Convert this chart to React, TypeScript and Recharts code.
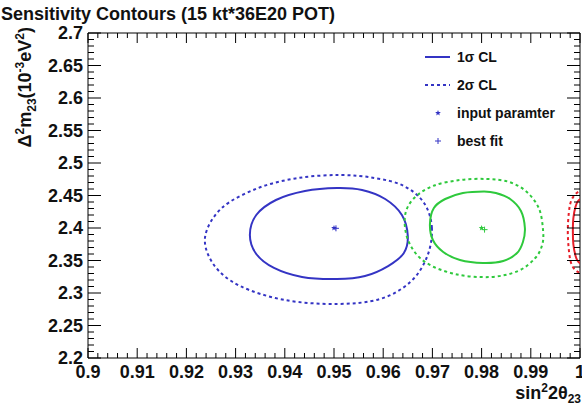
import React from "react";
import { ComposedChart, Scatter, XAxis, YAxis } from "recharts";

// axis ticks
const X_MAJOR = [0.9, 0.91, 0.92, 0.93, 0.94, 0.95, 0.96, 0.97, 0.98, 0.99, 1.0];
const X_LABELS = ["0.9", "0.91", "0.92", "0.93", "0.94", "0.95", "0.96", "0.97", "0.98", "0.99", "1"];
const Y_MAJOR = [2.2, 2.25, 2.3, 2.35, 2.4, 2.45, 2.5, 2.55, 2.6, 2.65, 2.7];
const Y_LABELS = ["2.2", "2.25", "2.3", "2.35", "2.4", "2.45", "2.5", "2.55", "2.6", "2.65", "2.7"];

// contours (sin^2 2theta, dm^2)
const BLUE_1S_X = [0.965, 0.9638, 0.9604, 0.9557, 0.9506, 0.9441, 0.9382, 0.9342, 0.9329, 0.9342, 0.9378, 0.9435, 0.9506, 0.9563, 0.961, 0.9642];
const BLUE_1S_Y = [2.3877, 2.42, 2.4446, 2.4585, 2.4615, 2.4569, 2.4431, 2.42, 2.3892, 2.36, 2.3385, 2.3246, 2.3215, 2.3262, 2.3415, 2.3615];
const BLUE_2S_X = [0.9699, 0.9683, 0.9642, 0.9583, 0.9512, 0.9427, 0.9346, 0.9272, 0.9238, 0.9256, 0.9309, 0.94, 0.9506, 0.9594, 0.9655, 0.9689];
const BLUE_2S_Y = [2.4, 2.4385, 2.4646, 2.4769, 2.4815, 2.4769, 2.4615, 2.4308, 2.3862, 2.3431, 2.3108, 2.2892, 2.2831, 2.2908, 2.3169, 2.3554];
const GREEN_1S_X = [0.9888, 0.988, 0.9858, 0.9829, 0.9805, 0.9762, 0.9726, 0.9703, 0.9695, 0.9701, 0.9722, 0.9756, 0.9803, 0.9844, 0.9872, 0.9884];
const GREEN_1S_Y = [2.4, 2.4262, 2.4446, 2.4538, 2.4562, 2.4538, 2.4446, 2.4308, 2.4062, 2.3815, 2.3631, 2.3508, 2.3462, 2.3492, 2.3615, 2.3785];
const GREEN_2S_X = [0.9925, 0.9917, 0.9892, 0.9856, 0.9811, 0.9756, 0.9701, 0.9661, 0.9644, 0.9652, 0.9685, 0.9746, 0.9817, 0.9874, 0.9909, 0.9923];
const GREEN_2S_Y = [2.3954, 2.4292, 2.4554, 2.4708, 2.4754, 2.4738, 2.4646, 2.4446, 2.4169, 2.3785, 2.3477, 2.3292, 2.3246, 2.3338, 2.3538, 2.3738];
const RED_1S_X = [1.002, 1.0, 0.9991, 0.99865, 0.99855, 0.99865, 0.9991, 1.0, 1.002];
const RED_1S_Y = [2.445, 2.444, 2.433, 2.415, 2.395, 2.375, 2.357, 2.346, 2.345];
const RED_2S_X = [1.002, 1.0, 0.9984, 0.99775, 0.99752, 0.99775, 0.9984, 1.0, 1.002];
const RED_2S_Y = [2.458, 2.457, 2.445, 2.425, 2.395, 2.365, 2.342, 2.331, 2.33];

const INPUT_X = [0.95, 0.98];
const INPUT_Y = [2.4, 2.4];
const FIT_X = [0.9504, 0.9806];
const FIT_Y = [2.3995, 2.3975];

const BLUE = "#3434c4";
const GREEN = "#2ec93c";
const RED = "#e61e28";
const FONT = "'Liberation Sans', Arial, Helvetica, sans-serif";

const pts = (xs: number[], ys: number[]) => xs.map((x, i) => ({ x, y: ys[i] }));

const withMinor = (major: number[], n: number) => {
  const out: number[] = [];
  for (let i = 0; i < major.length - 1; i++) {
    for (let k = 0; k < n; k++) out.push(major[i] + ((major[i + 1] - major[i]) * k) / n);
  }
  out.push(major[major.length - 1]);
  return out;
};
const X_TICKS = withMinor(X_MAJOR, 5);
const Y_TICKS = withMinor(Y_MAJOR, 5);

const majorIndex = (list: number[], v: number) => list.findIndex((m) => Math.abs(m - v) < 1e-9);

// closed catmull-rom so the contours join smoothly
const closedSpline = (context: any) => {
  let p: number[][] = [];
  return {
    areaStart() {},
    areaEnd() {},
    lineStart() {
      p = [];
    },
    point(x: number, y: number) {
      p.push([x, y]);
    },
    lineEnd() {
      const n = p.length;
      if (!n) return;
      context.moveTo(p[0][0], p[0][1]);
      for (let i = 0; i < n; i++) {
        const p0 = p[(i - 1 + n) % n], p1 = p[i], p2 = p[(i + 1) % n], p3 = p[(i + 2) % n];
        context.bezierCurveTo(
          p1[0] + (p2[0] - p0[0]) / 6, p1[1] + (p2[1] - p0[1]) / 6,
          p2[0] - (p3[0] - p1[0]) / 6, p2[1] - (p3[1] - p1[1]) / 6,
          p2[0], p2[1]
        );
      }
      context.closePath();
    },
  };
};

const BottomTick = ({ x, y, payload }: any) => {
  const i = majorIndex(X_MAJOR, payload.value);
  return (
    <g>
      <line x1={x} y1={y} x2={x} y2={y - (i >= 0 ? 10 : 5)} stroke="#000" />
      {i >= 0 && (
        <text x={x} y={y + 20} textAnchor="middle" fontFamily={FONT} fontWeight="bold" fontSize={18} fill="#111">
          {X_LABELS[i]}
        </text>
      )}
    </g>
  );
};
const TopTick = ({ x, y, payload }: any) => {
  const i = majorIndex(X_MAJOR, payload.value);
  return <line x1={x} y1={y} x2={x} y2={y + (i >= 0 ? 10 : 5)} stroke="#000" />;
};
const LeftTick = ({ x, y, payload }: any) => {
  const i = majorIndex(Y_MAJOR, payload.value);
  return (
    <g>
      <line x1={x} y1={y} x2={x + (i >= 0 ? 13 : 6)} y2={y} stroke="#000" />
      {i >= 0 && (
        <text x={x - 5} y={y + 6} textAnchor="end" fontFamily={FONT} fontWeight="bold" fontSize={18} fill="#111">
          {Y_LABELS[i]}
        </text>
      )}
    </g>
  );
};
const RightTick = ({ x, y, payload }: any) => {
  const i = majorIndex(Y_MAJOR, payload.value);
  return <line x1={x} y1={y} x2={x - (i >= 0 ? 13 : 6)} y2={y} stroke="#000" />;
};

const StarShape = ({ cx, cy, fill }: any) => {
  const r = 3, r2 = 1.3;
  let d = "";
  for (let k = 0; k < 10; k++) {
    const a = -Math.PI / 2 + (k * Math.PI) / 5;
    const rr = k % 2 ? r2 : r;
    d += (k ? "L" : "M") + (cx + rr * Math.cos(a)) + "," + (cy + rr * Math.sin(a));
  }
  return <path d={d + "Z"} fill={fill} />;
};
const PlusShape = ({ cx, cy, fill }: any) => (
  <g stroke={fill} strokeWidth={1}>
    <line x1={cx - 3} y1={cy} x2={cx + 3} y2={cy} />
    <line x1={cx} y1={cy - 3} x2={cx} y2={cy + 3} />
  </g>
);
const NoShape = () => <g />;

const legendRows = [
  { label: "1\u03c3 CL", kind: "solid" },
  { label: "2\u03c3 CL", kind: "dash" },
  { label: "input paramter", kind: "star" },
  { label: "best fit", kind: "plus" },
];

export default function App() {
  const axisText = { fontFamily: FONT, fontWeight: "bold" as const, fill: "#111" };
  return (
    <div style={{ position: "fixed", left: 0, top: 0, width: 582, height: 406, overflow: "hidden", background: "#fff" }}>
      {/* plot box: x 88..580, y 33..358 */}
      <ComposedChart width={620} height={406} margin={{ top: 3, right: 10, bottom: 18, left: 28 }}>
        <XAxis xAxisId={0} dataKey="x" type="number" domain={[0.9, 1.0]} allowDataOverflow ticks={X_TICKS} interval={0}
          height={30} tickLine={false} tickSize={0} tickMargin={0} axisLine={{ stroke: "#000" }} tick={BottomTick} />
        <XAxis xAxisId="top" orientation="top" dataKey="x" type="number" domain={[0.9, 1.0]} allowDataOverflow ticks={X_TICKS}
          interval={0} height={30} tickLine={false} tickSize={0} tickMargin={0} axisLine={{ stroke: "#000" }} tick={TopTick} />
        <YAxis yAxisId={0} dataKey="y" type="number" domain={[2.2, 2.7]} allowDataOverflow ticks={Y_TICKS} interval={0}
          width={60} tickLine={false} tickSize={0} tickMargin={0} axisLine={{ stroke: "#000" }} tick={LeftTick} />
        <YAxis yAxisId="right" orientation="right" dataKey="y" type="number" domain={[2.2, 2.7]} allowDataOverflow ticks={Y_TICKS}
          interval={0} width={30} tickLine={false} tickSize={0} tickMargin={0} axisLine={{ stroke: "#000" }} tick={RightTick} />

        <Scatter data={pts(BLUE_2S_X, BLUE_2S_Y)} line={{ stroke: BLUE, strokeWidth: 2, strokeDasharray: "3 3", fill: "none" }}
          lineJointType={closedSpline as any} shape={NoShape} isAnimationActive={false} />
        <Scatter data={pts(BLUE_1S_X, BLUE_1S_Y)} line={{ stroke: BLUE, strokeWidth: 2, fill: "none" }}
          lineJointType={closedSpline as any} shape={NoShape} isAnimationActive={false} />
        <Scatter data={pts(GREEN_2S_X, GREEN_2S_Y)} line={{ stroke: GREEN, strokeWidth: 2, strokeDasharray: "3 3", fill: "none" }}
          lineJointType={closedSpline as any} shape={NoShape} isAnimationActive={false} />
        <Scatter data={pts(GREEN_1S_X, GREEN_1S_Y)} line={{ stroke: GREEN, strokeWidth: 2, fill: "none" }}
          lineJointType={closedSpline as any} shape={NoShape} isAnimationActive={false} />
        <Scatter data={pts(RED_2S_X, RED_2S_Y)} line={{ stroke: RED, strokeWidth: 2, strokeDasharray: "3 3", fill: "none" }}
          lineJointType="natural" shape={NoShape} isAnimationActive={false} />
        <Scatter data={pts(RED_1S_X, RED_1S_Y)} line={{ stroke: RED, strokeWidth: 2, fill: "none" }}
          lineJointType="natural" shape={NoShape} isAnimationActive={false} />

        <Scatter data={pts(INPUT_X.slice(0, 1), INPUT_Y.slice(0, 1))} fill={BLUE} shape={StarShape} isAnimationActive={false} />
        <Scatter data={pts(FIT_X.slice(0, 1), FIT_Y.slice(0, 1))} fill={BLUE} shape={PlusShape} isAnimationActive={false} />
        <Scatter data={pts(INPUT_X.slice(1), INPUT_Y.slice(1))} fill={GREEN} shape={StarShape} isAnimationActive={false} />
        <Scatter data={pts(FIT_X.slice(1), FIT_Y.slice(1))} fill={GREEN} shape={PlusShape} isAnimationActive={false} />
      </ComposedChart>

      {/* titles */}
      <svg width={582} height={406} style={{ position: "absolute", left: 0, top: 0, pointerEvents: "none" }}>
        <text x={1} y={20} fontFamily={FONT} fontWeight="bold" fontSize={18} fill="#111">
          Sensitivity Contours (15 kt*36E20 POT)
        </text>
        <text transform="translate(31,27) rotate(-90)" textAnchor="end" {...axisText} fontSize={18}>
          {"\u0394"}
          <tspan dy={-7} fontSize={12}>2</tspan>
          <tspan dy={7}>m</tspan>
          <tspan dy={5} fontSize={12}>23</tspan>
          <tspan dy={-5}>(10</tspan>
          <tspan dy={-7} fontSize={12}>-3</tspan>
          <tspan dy={7}>eV</tspan>
          <tspan dy={-7} fontSize={12}>2</tspan>
          <tspan dy={7}>)</tspan>
        </text>
        <text x={581} y={399} textAnchor="end" {...axisText} fontSize={18}>
          sin
          <tspan dy={-7} fontSize={12}>2</tspan>
          <tspan dy={7}>2{"\u03b8"}</tspan>
          <tspan dy={4} fontSize={12}>23</tspan>
        </text>
      </svg>

      {/* legend */}
      <svg width={170} height={120} style={{ position: "absolute", left: 418, top: 42, pointerEvents: "none" }}>
        {legendRows.map((r, i) => {
          const cy = 15 + i * 28;
          return (
            <g key={r.label}>
              {r.kind === "solid" && <line x1={7} x2={32} y1={cy} y2={cy} stroke={BLUE} strokeWidth={2} />}
              {r.kind === "dash" && <line x1={7} x2={32} y1={cy} y2={cy} stroke={BLUE} strokeWidth={2} strokeDasharray="3 3" />}
              {r.kind === "star" && <StarShape cx={20} cy={cy} fill={BLUE} />}
              {r.kind === "plus" && <PlusShape cx={20} cy={cy} fill={BLUE} />}
              <text x={39} y={cy + 5} fontFamily={FONT} fontWeight="bold" fontSize={14} fill="#111">
                {r.label}
              </text>
            </g>
          );
        })}
      </svg>
    </div>
  );
}
